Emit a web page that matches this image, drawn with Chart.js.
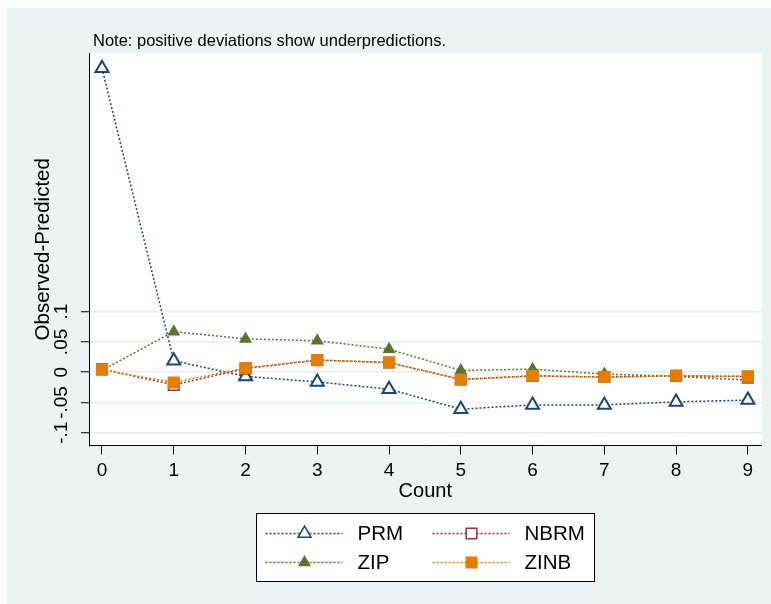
<!DOCTYPE html>
<html>
<head>
<meta charset="utf-8">
<script src="https://cdn.jsdelivr.net/npm/chart.js@4.4.0/dist/chart.umd.min.js"></script>
<style>
  html, body { margin: 0; padding: 0; background: #fff; }
  #wrap { position: absolute; left: 7px; top: 8px; width: 764px; height: 596px; background: #eaf2f3; }
</style>
</head>
<body>
<div id="wrap"><canvas id="chart"></canvas></div>
<script>
// counts on the x axis
const counts = [0, 1, 2, 3, 4, 5, 6, 7, 8, 9];

// observed - predicted
const prm  = [0.502, 0.019, -0.007, -0.016, -0.028, -0.061, -0.054, -0.054, -0.049, -0.046];
const nbrm = [0.005, -0.021, 0.006, 0.020, 0.016, -0.012, -0.006, -0.008, -0.006, -0.007];
const zip  = [0.003, 0.067, 0.055, 0.052, 0.038, 0.003, 0.005, -0.003, -0.007, -0.013];
const zinb = [0.004, -0.017, 0.007, 0.020, 0.016, -0.012, -0.006, -0.008, -0.006, -0.007];

const yTicks = [-0.1, -0.05, 0, 0.05, 0.1];
const yTickLabels = ['-.1', '-.05', '0', '.05', '.1'];
const seriesNames = ['PRM', 'NBRM', 'ZIP', 'ZINB'];
const noteText = 'Note: positive deviations show underpredictions.';

Chart.defaults.font.family = '"Liberation Sans", Arial, sans-serif';
Chart.defaults.color = '#000';

const toPoints = vals => vals.map((v, i) => ({ x: counts[i], y: v }));

// white plot region + note above it
const plotBackground = {
    id: 'plotBackground',
    beforeDraw(chart) {
        const { ctx, chartArea } = chart;
        ctx.save();
        ctx.fillStyle = '#fff';
        ctx.fillRect(chartArea.left, chartArea.top, chartArea.right - chartArea.left, chartArea.bottom - chartArea.top);
        ctx.restore();
    },
    afterDraw(chart) {
        const { ctx, chartArea } = chart;
        ctx.save();
        ctx.fillStyle = '#000';
        ctx.font = '16.5px "Liberation Sans", Arial, sans-serif';
        ctx.textBaseline = 'middle';
        ctx.fillText(noteText, chartArea.left + 4, chartArea.top - 12);
        ctx.restore();
    }
};

// Stata style legend: two columns, line sample with marker in the middle
const boxLegend = {
    id: 'boxLegend',
    afterDraw(chart) {
        const { ctx, chartArea } = chart;
        const w = 338, h = 68;
        const left = Math.round((chartArea.left + chartArea.right) / 2 - w / 2) + 0.5;
        const top = Math.round(chartArea.bottom + 67.5) + 0.5;
        ctx.save();
        ctx.fillStyle = '#fff';
        ctx.fillRect(left, top, w, h);
        ctx.strokeStyle = '#000';
        ctx.lineWidth = 1;
        ctx.strokeRect(left, top, w, h);

        chart.data.datasets.forEach((ds, i) => {
            const col = i % 2, row = Math.floor(i / 2);
            const x0 = left + 9 + col * 167;
            const y = top + 20 + row * 29;
            ctx.save();
            ctx.strokeStyle = ds.borderColor;
            ctx.lineWidth = ds.borderWidth;
            ctx.setLineDash(ds.borderDash);
            ctx.beginPath();
            ctx.moveTo(x0, y);
            ctx.lineTo(x0 + 77, y);
            ctx.stroke();
            ctx.setLineDash([]);
            ctx.fillStyle = ds.pointBackgroundColor;
            ctx.strokeStyle = ds.pointBorderColor;
            Chart.helpers.drawPoint(ctx, {
                pointStyle: ds.pointStyle, radius: ds.pointRadius, rotation: 0,
                borderWidth: ds.pointBorderWidth
            }, x0 + 39, y);
            ctx.restore();
            ctx.fillStyle = '#000';
            ctx.font = '20.5px "Liberation Sans", Arial, sans-serif';
            ctx.textBaseline = 'middle';
            ctx.fillText(ds.label, x0 + 92, y + 1);
        });
        ctx.restore();
    }
};

const navy = '#1a476f', maroon = '#90353b', green = '#55752f', orange = '#e37e00';

new Chart(document.getElementById('chart'), {
    type: 'line',
    data: {
        datasets: [
            {
                label: seriesNames[0], data: toPoints(prm), order: 4,
                borderColor: navy, borderWidth: 1.5, borderDash: [2, 2],
                pointStyle: 'triangle', pointRadius: 7.5, pointBorderWidth: 2,
                pointBorderColor: navy, pointBackgroundColor: '#fff'
            },
            {
                label: seriesNames[1], data: toPoints(nbrm), order: 3,
                borderColor: maroon, borderWidth: 1.5, borderDash: [2, 2],
                pointStyle: 'rect', pointRadius: 7.5, pointBorderWidth: 1.5,
                pointBorderColor: maroon, pointBackgroundColor: '#fff'
            },
            {
                label: seriesNames[2], data: toPoints(zip), order: 2,
                borderColor: green, borderWidth: 1.5, borderDash: [2, 2],
                pointStyle: 'triangle', pointRadius: 7.5, pointBorderWidth: 0,
                pointBorderColor: green, pointBackgroundColor: green
            },
            {
                label: seriesNames[3], data: toPoints(zinb), order: 1,
                borderColor: orange, borderWidth: 1.5, borderDash: [2, 2],
                pointStyle: 'rect', pointRadius: 8.5, pointBorderWidth: 0,
                pointBorderColor: orange, pointBackgroundColor: orange
            }
        ]
    },
    options: {
        responsive: true,
        maintainAspectRatio: false,
        animation: false,
        layout: { padding: { top: 45, right: 9.3, bottom: 88.5, left: 0 } },
        elements: { line: { tension: 0 } },
        plugins: {
            legend: { display: false },
            tooltip: { enabled: false }
        },
        scales: {
            x: {
                type: 'linear',
                min: -0.181,
                max: 9.19,
                afterBuildTicks: s => { s.ticks = counts.map(v => ({ value: v })); },
                afterFit: s => { s.height = 70; },
                border: { color: '#000', width: 1 },
                grid: { drawOnChartArea: false, color: '#000', tickLength: 9, tickWidth: 1 },
                ticks: { font: { size: 19 }, color: '#000', padding: 5, maxRotation: 0, autoSkip: false },
                title: { display: true, text: 'Count', font: { size: 20 }, color: '#000', padding: { top: 0, bottom: 12 } }
            },
            y: {
                type: 'linear',
                min: -0.121,
                max: 0.527,
                afterBuildTicks: s => { s.ticks = yTicks.map(v => ({ value: v })); },
                afterFit: s => { s.width = 82; },
                border: { color: '#000', width: 1 },
                grid: { color: '#e6eef0', lineWidth: 1.5, tickColor: '#000', tickLength: 8, tickWidth: 1 },
                ticks: {
                    callback: v => yTickLabels[yTicks.indexOf(v)],
                    minRotation: 90, maxRotation: 90, crossAlign: 'center',
                    padding: 3, font: { size: 19 }, color: '#000'
                },
                title: { display: true, text: 'Observed-Predicted', font: { size: 20.5 }, color: '#000', padding: { top: 24, bottom: 0 } }
            }
        }
    },
    plugins: [plotBackground, boxLegend]
});
</script>
</body>
</html>
